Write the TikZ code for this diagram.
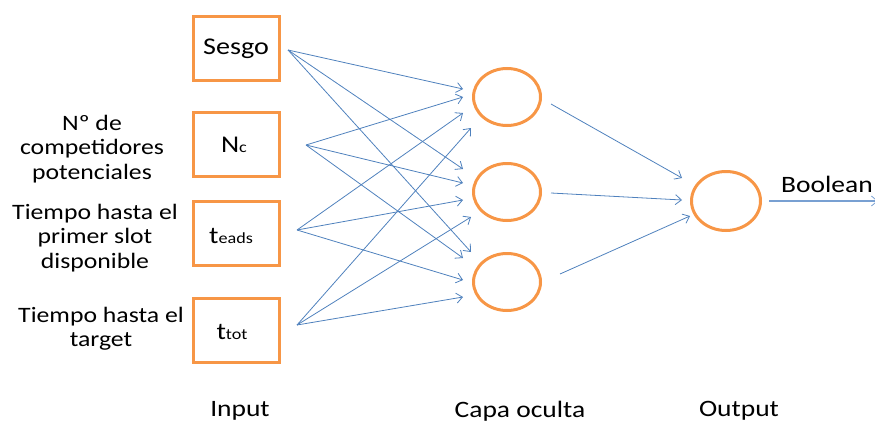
\documentclass[tikz,border=0pt]{standalone}
\usepackage{fontspec}
\setmainfont[FakeStretch=1.17]{Carlito}
\usetikzlibrary{arrows.meta,shapes.geometric}
\definecolor{boxorange}{RGB}{247,150,70}
\definecolor{linkblue}{RGB}{79,129,189}
\definecolor{outblue}{RGB}{120,160,210}
\newcommand{\bigtxt}{\fontsize{24}{29}\selectfont}
\newcommand{\subtxt}{\fontsize{15.5}{20}\selectfont}

\begin{document}
\begin{tikzpicture}[x=1pt,y=-1pt,
  inbox/.style={draw=boxorange, line width=3pt, minimum width=86pt,
    minimum height=64pt, inner sep=0pt},
  neuron/.style={draw=boxorange, line width=3pt, ellipse, inner sep=0pt,
    minimum width=67pt, minimum height=57pt},
  link/.style={draw=linkblue, line width=0.8pt,
    -{Straight Barb[length=6pt,width=10pt,line width=0.8pt]}},
  sidelabel/.style={align=center, font=\fontsize{22}{24.3}\selectfont},
  caption/.style={font=\fontsize{23.5}{28}\selectfont}
]
\useasboundingbox (0,0) rectangle (875,423);

% input layer
\node[inbox] (sesgo) at (236,48.5) {};
\node[inbox] (nc)    at (236,144.5) {};
\node[inbox] (teads) at (236,233.5) {};
\node[inbox] (ttot)  at (236,330) {};
\node (sesgotxt) at (236,49) {\bigtxt Sesgo};
\node (nctxt)    at (234,145) {\bigtxt N\subtxt c};
\node (teadstxt) at (231,236) {\bigtxt t\subtxt eads};
\node (ttottxt)  at (232,332) {\bigtxt t\subtxt tot};

% descriptions of the inputs
\node[sidelabel] (lnc)   at (92,149)  {Nº de\\competidores\\potenciales};
\node[sidelabel] (lt1)   at (95,238)  {Tiempo hasta el\\primer slot\\disponible};
\node[sidelabel] (lt2)   at (101,329) {Tiempo hasta el\\target};

% hidden and output neurons
\node[neuron] (h0) at (507,97) {};
\node[neuron] (h1) at (507,192) {};
\node[neuron] (h2) at (507,282) {};
\node[neuron, minimum width=69pt, minimum height=59pt] (o) at (726,201) {};

% connector ends
\coordinate (s0) at (288,50);
\coordinate (s1) at (306,145);
\coordinate (s2) at (297,230);
\coordinate (s3) at (297,325);

\coordinate (a00) at (463,89);  \coordinate (a01) at (463,97);
\coordinate (a02) at (463,113); \coordinate (a03) at (471,128);
\coordinate (a10) at (463,169); \coordinate (a11) at (463,183);
\coordinate (a12) at (463,200); \coordinate (a13) at (471,217);
\coordinate (a20) at (471,252); \coordinate (a21) at (463,258);
\coordinate (a22) at (463,280); \coordinate (a23) at (463,297);

\coordinate (b0) at (551,104); \coordinate (c0) at (682,178);
\coordinate (b1) at (551,193); \coordinate (c1) at (682,200);
\coordinate (b2) at (560,274); \coordinate (c2) at (690,216);
\coordinate (bo) at (769,201); \coordinate (co) at (878,201);

% input -> hidden
\foreach \i in {0,1,2,3}{
  \foreach \j in {0,1,2}{
    \draw[link] (s\i) -- (a\j\i);
  }
}
% hidden -> output
\foreach \j in {0,1,2}{
  \draw[link] (b\j) -- (c\j);
}
\draw[link, draw=outblue, line width=1.2pt] (bo) -- (co);
\node[caption, anchor=base] (bool) at (827,192) {Boolean};

% layer captions
\node[caption] (cin)  at (240,411) {Input};
\node[caption] (chid) at (520,411) {Capa oculta};
\node[caption] (cout) at (739,411) {Output};
\end{tikzpicture}
\end{document}
